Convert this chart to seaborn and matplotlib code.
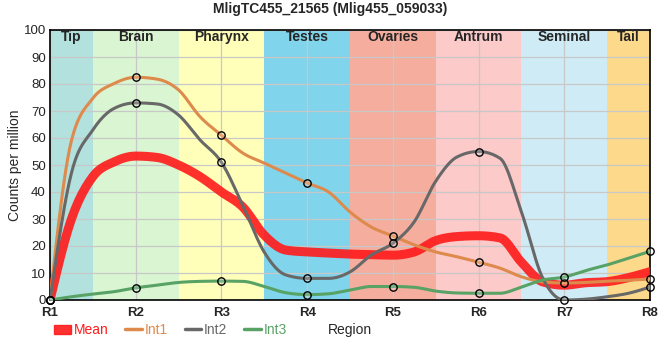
import seaborn as sns
import matplotlib.pyplot as plt
import numpy as np
import pandas as pd
from matplotlib.patches import Patch
from matplotlib.lines import Line2D

# Data: curve values every quarter region (R1, R1.25, ... R8);
# every 4th value is a measured point (marker)
regions = ["R1", "R2", "R3", "R4", "R5", "R6", "R7", "R8"]
int1 = [0, 59, 74.7, 80.2, 82.5, 81.8, 77.8, 67.9, 61, 54.4, 50.7, 47,
        43.3, 40, 32.6, 27, 23.7, 20.4, 17.8, 16, 14, 11.8, 8.6, 6.7,
        6.3, 6.5, 7, 7.3, 7.8]
int2 = [0, 47, 63, 71, 73, 72.6, 68.5, 59.3, 51, 35, 17.7, 9.3,
        8, 8, 10.4, 16.7, 21, 29, 44, 53, 55, 52.5, 32.6, 8,
        0, 0.3, 1.2, 2.5, 4.8]
int3 = [0, 1.2, 2.2, 3.1, 4.5, 5.5, 6.5, 6.9, 7, 6.9, 5, 2.7,
        2, 2.3, 3.7, 5, 5, 4.7, 3.3, 2.6, 2.5, 2.5, 4.8, 7.4,
        8.5, 10.9, 13, 15.5, 18]
mean = [0, 30, 45.7, 51.2, 53.3, 52.8, 50, 45.7, 40, 34.4, 24, 18.5,
        17.8, 17.4, 17, 16.8, 16.6, 17.8, 22, 23.5, 23.8, 23, 14, 6.7,
        5.5, 6.4, 6.8, 8.3, 10.5]
tissues = ["Tip", "Brain", "Pharynx", "Testes", "Ovaries", "Antrum", "Seminal", "Tail"]
tissue_colors = ["#b3e1dd", "#d9f5d1", "#ffffb9", "#80d4eb", "#f5ad9e",
                 "#fdcaca", "#cfebf5", "#fdda8b"]

x = np.arange(1, len(regions) + 1)
xq = np.linspace(1, len(regions), len(int1))


def monotone(xs, ys, n=12):
    # monotone cubic curve (same idea as d3 curveMonotoneX)
    xs = np.asarray(xs, float)
    ys = np.asarray(ys, float)
    h = np.diff(xs)
    s = np.diff(ys) / h
    t = np.zeros_like(ys)
    for i in range(1, len(ys) - 1):
        p = (s[i - 1] * h[i] + s[i] * h[i - 1]) / (h[i - 1] + h[i])
        t[i] = (np.sign(s[i - 1]) + np.sign(s[i])) * min(abs(s[i - 1]), abs(s[i]), 0.5 * abs(p))
    t[0] = (3 * s[0] - t[1]) / 2
    t[-1] = (3 * s[-1] - t[-2]) / 2
    px, py = [], []
    for i in range(len(xs) - 1):
        u = np.linspace(0, 1, n, endpoint=False)
        h00 = 2 * u**3 - 3 * u**2 + 1
        h10 = u**3 - 2 * u**2 + u
        h01 = -2 * u**3 + 3 * u**2
        h11 = u**3 - u**2
        px.extend(xs[i] + u * h[i])
        py.extend(h00 * ys[i] + h10 * h[i] * t[i] + h01 * ys[i + 1] + h11 * h[i] * t[i + 1])
    px.append(xs[-1])
    py.append(ys[-1])
    return np.array(px), np.array(py)


sns.set_style("white")
plt.rcParams['font.family'] = ['Liberation Sans', 'DejaVu Sans']

fig = plt.figure(figsize=(6.6, 3.6), dpi=100)
ax = fig.add_axes([50 / 660, 1 - 300 / 360, 600 / 660, 270 / 360])

# tissue bands
for i, (name, col) in enumerate(zip(tissues, tissue_colors)):
    lo = max(x[i] - 0.5, 1)
    hi = min(x[i] + 0.5, 8)
    ax.axvspan(lo, hi, color=col, lw=0, zorder=0)
    ax.text((lo + hi) / 2, 97.5, name, ha="center", va="center",
            fontsize=10, fontweight="bold", zorder=5)

ax.set_xlim(1, 8)
ax.set_ylim(0, 100)
ax.set_yticks(np.arange(0, 101, 10))
ax.set_xticks(x)
ax.set_xticklabels(regions, fontweight="bold", fontsize=9.5)
ax.tick_params(axis="y", labelsize=9.5, length=0, pad=3)
ax.tick_params(axis="x", length=3, pad=2)
ax.grid(True, color="#c8c8c8", lw=0.9, zorder=1)
ax.set_axisbelow(True)
for sp in ax.spines.values():
    sp.set_color("black")
    sp.set_linewidth(1.2)

series = [("Mean", mean, "#ff1a1a", 6.5, 0.9, False),
          ("Int1", int1, "#dd8a4c", 2.2, 1, True),
          ("Int2", int2, "#686868", 2.2, 1, True),
          ("Int3", int3, "#58a266", 2.2, 1, True)]

for name, ys, col, lw, al, mk in series:
    cx, cy = monotone(xq, ys)
    curve = pd.DataFrame({"x": cx, "y": cy})
    sns.lineplot(data=curve, x="x", y="y", sort=False, color=col, lw=lw,
                 alpha=al, ax=ax, zorder=3 if name == "Mean" else 4)
    if mk:
        pts = pd.DataFrame({"x": xq[::4], "y": ys[::4]})
        sns.scatterplot(data=pts, x="x", y="y", s=28, facecolor="#ffffff30",
                        edgecolor="black", linewidth=1, ax=ax, zorder=6, clip_on=False)

ax.set_xlabel("")
ax.set_ylabel("Counts per million", fontsize=10)
ax.yaxis.set_label_coords(-0.047, 0.5)
fig.text(350 / 660, 1 - 330 / 360, "Region", ha="center", va="center", fontsize=10)
fig.suptitle("MligTC455_21565 (Mlig455_059033)", y=1 - 9 / 360, va="center",
             fontsize=10, fontweight="bold")

handles = [Patch(color="#ff1a1a", alpha=0.9, label="Mean"),
           Line2D([], [], color="#dd8a4c", lw=2.5, label="Int1"),
           Line2D([], [], color="#686868", lw=2.5, label="Int2"),
           Line2D([], [], color="#58a266", lw=2.5, label="Int3")]
leg = fig.legend(handles=handles, loc="center left", bbox_to_anchor=(42 / 660, 1 - 330 / 360),
                 ncol=4, frameon=False, fontsize=10, handlelength=1.2, handleheight=0.6,
                 handletextpad=0.2, columnspacing=1.2)
for txt, (name, ys, col, lw, al, mk) in zip(leg.get_texts(), series):
    txt.set_color(col)

fig.savefig("out.png", dpi=100)
